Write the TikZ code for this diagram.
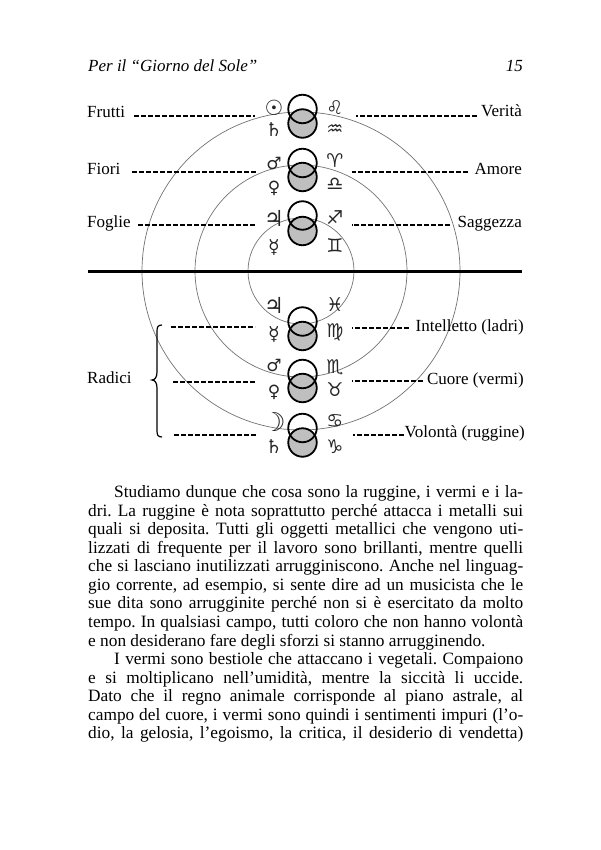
\documentclass[tikz,border=0pt]{standalone}
\usepackage{fontspec}
\setmainfont{Liberation Serif}
\newfontfamily\astro{DejaVu Sans}
\newcommand{\bl}[3]{\node[body] (#1) at (88,#2) {\frenchspacing\hbox to 435pt{#3}};}
\begin{document}
\begin{tikzpicture}[x=1pt,y=-1pt,
  lbl/.style={font=\fontsize{17}{20}\selectfont,inner sep=0pt,anchor=base west},
  lblr/.style={font=\fontsize{17}{20}\selectfont,inner sep=0pt,anchor=base east},
  sym/.style={font=\astro\fontsize{19}{19}\selectfont,inner sep=0pt,text=black!85},
  dsh/.style={line width=1.8pt,dash pattern=on 5pt off 2pt},
  ring/.style={draw=black!55,line width=0.7pt},
  vt/.style={draw=black,line width=1.8pt,circle,minimum size=28.5pt,inner sep=0pt},
  vb/.style={draw=black,line width=1.8pt,circle,minimum size=28.5pt,inner sep=0pt,fill=black!25},
  body/.style={font=\fontsize{17.3}{18}\selectfont,inner sep=0pt,anchor=base west}]
\useasboundingbox (0,0) rectangle (600,850);
\fill[white] (0,0) rectangle (600,850);
% header
\node[lbl,font=\itshape\fontsize{17}{20}\selectfont] (head) at (88,72) {Per il “Giorno del Sole”};
\node[lblr,font=\itshape\fontsize{17}{20}\selectfont] (page) at (523,72) {15};
% rings
\node[ring,circle,minimum size=318pt,inner sep=0pt] (r3) at (301,271) {};
\node[ring,circle,minimum size=212pt,inner sep=0pt] (r2) at (301,271) {};
\node[ring,circle,minimum size=106pt,inner sep=0pt] (r1) at (301,271) {};
% divider
\coordinate (dl) at (88,271); \coordinate (dr) at (522,271);
\draw[line width=3pt] (dl) -- (dr);
% venn pairs
\foreach \n/\a/\b in {p/109/123.5,q/163/177,s/215.5/231,t/321.5/336,u/374/388,v/428/442.5}{
  \node[vb] (\n b) at (302.5,\b) {};
  \node[vt] (\n a) at (302.5,\a) {};
}
% symbols
\node[sym,font=\astro\fontsize{21}{21}\selectfont] (s1) at (274,108) {☉};
\node[sym] (s2) at (274,130) {♄};
\node[sym] (s3) at (335,108) {♌};
\node[sym] (s4) at (335,130) {♒};
\node[sym,font=\astro\fontsize{17}{17}\selectfont] (s5) at (274,163) {♂};
\node[sym,font=\astro\fontsize{17}{17}\selectfont] (s6) at (274,188) {♀};
\node[sym] (s7) at (335,161) {♈};
\node[sym] (s8) at (335,184) {♎};
\node[sym,font=\astro\fontsize{22}{22}\selectfont] (s9) at (274,218) {♃};
\node[sym] (s10) at (274,248) {☿};
\node[sym] (s11) at (335,218) {♐};
\node[sym] (s12) at (335,246) {♊};
\node[sym,font=\astro\fontsize{22}{22}\selectfont] (s13) at (274,305) {♃};
\node[sym] (s14) at (274,335) {☿};
\node[sym] (s15) at (335,305) {♓};
\node[sym] (s16) at (335,332) {♍};
\node[sym,font=\astro\fontsize{17}{17}\selectfont] (s17) at (274,365) {♂};
\node[sym,font=\astro\fontsize{17}{17}\selectfont] (s18) at (274,392) {♀};
\node[sym] (s19) at (335,367) {♏};
\node[sym] (s20) at (335,390) {♉};
\node[sym,font=\astro\fontsize{26}{26}\selectfont] (s21) at (274,422) {☽};
\node[sym] (s22) at (274,447) {♄};
\node[sym] (s23) at (335,421) {♋};
\node[sym] (s24) at (335,447) {♑};
% labels
\node[lbl] (frutti) at (87,118) {Frutti};
\node[lbl] (fiori) at (87,175) {Fiori};
\node[lbl] (foglie) at (87,228) {Foglie};
\node[lbl] (radici) at (87,383) {Radici};
\node[lblr] (verita) at (522,117) {Verità};
\node[lblr] (amore) at (522,175) {Amore};
\node[lblr] (sagg) at (522,227) {Saggezza};
\node[lblr] (int) at (524,331) {Intelletto (ladri)};
\node[lblr] (cuo) at (524,384) {Cuore (vermi)};
\node[lblr] (vol) at (525,437) {Volontà (ruggine)};
% dashed connectors
\coordinate (c1) at (255,116); \coordinate (c2) at (356,116);
\coordinate (c3) at (258,172); \coordinate (c4) at (352,172);
\coordinate (c5) at (255,225); \coordinate (c6) at (352,225);
\coordinate (c7l) at (171,327); \coordinate (c7) at (255,327); \coordinate (c8) at (352,328);
\coordinate (c9l) at (173,382); \coordinate (c9) at (255,382); \coordinate (c10) at (352,381);
\coordinate (c11l) at (174,435); \coordinate (c11) at (257,435); \coordinate (c12) at (353,435);
\draw[dsh] (frutti.east |- c1) ++(9,0) -- (c1);
\draw[dsh] (verita.west |- c2) ++(-4,0) -- (c2);
\draw[dsh] (fiori.east |- c3) ++(12,0) -- (c3);
\draw[dsh] (amore.west |- c4) ++(-6,0) -- (c4);
\draw[dsh] (foglie.east |- c5) ++(7,0) -- (c5);
\draw[dsh] (sagg.west |- c6) ++(-7,0) -- (c6);
\draw[dsh] (c7l) -- (c7);
\draw[dsh] (int.west |- c8) ++(-7,0) -- (c8);
\draw[dsh] (c9l) -- (c9);
\draw[dsh] (cuo.west |- c10) ++(-4,0) -- (c10);
\draw[dsh] (c11l) -- (c11);
\draw[dsh] (vol.west |- c12) ++(-1,0) -- (c12);
% brace
\coordinate (bt) at (162,325); \coordinate (bm) at (152,380); \coordinate (bb) at (162,437);
\draw[line width=1.2pt] (bt) .. controls (158,325) and (157,327) .. (157,331) -- (157,372)
  .. controls (157,377) and (155,380) .. (bm) .. controls (155,380) and (157,383) .. (157,388)
  -- (157,431) .. controls (157,435) and (158,437) .. (bb);
% body text
\bl{b1}{497.7}{\hspace*{26pt}Studiamo dunque che cosa sono la ruggine, i vermi e i la-}
\bl{b2}{516.2}{dri. La ruggine è nota soprattutto perché attacca i metalli sui}
\bl{b3}{534.8}{quali si deposita. Tutti gli oggetti metallici che vengono uti-}
\bl{b4}{553.3}{lizzati di frequente per il lavoro sono brillanti, mentre quelli}
\bl{b5}{571.9}{che si lasciano inutilizzati arrugginiscono. Anche nel linguag-}
\bl{b6}{590.4}{gio corrente, ad esempio, si sente dire ad un musicista che le}
\bl{b7}{608.9}{sue dita sono arrugginite perché non si è esercitato da molto}
\bl{b8}{627.5}{tempo. In qualsiasi campo, tutti coloro che non hanno volontà}
\bl{b9}{646}{e non desiderano fare degli sforzi si stanno arrugginendo.\hfil}
\bl{b10}{664.5}{\hspace*{26pt}I vermi sono bestiole che attaccano i vegetali. Compaiono}
\bl{b11}{683.1}{e si moltiplicano nell’umidità, mentre la siccità li uccide.}
\bl{b12}{701.6}{Dato che il regno animale corrisponde al piano astrale, al}
\bl{b13}{720.1}{campo del cuore, i vermi sono quindi i sentimenti impuri (l’o-}
\bl{b14}{738.6}{dio, la gelosia, l’egoismo, la critica, il desiderio di vendetta)}
\end{tikzpicture}
\end{document}
